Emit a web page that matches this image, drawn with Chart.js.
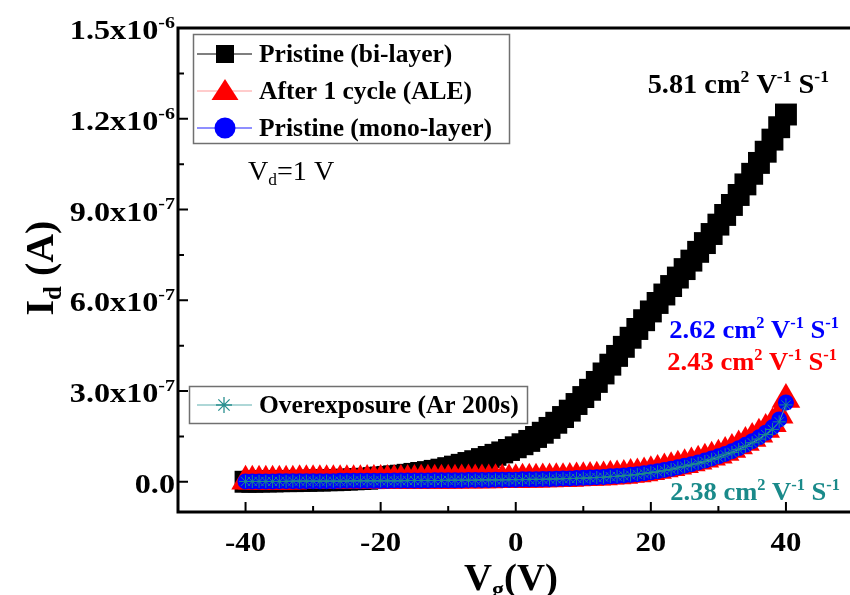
<!DOCTYPE html>
<html><head><meta charset="utf-8">
<style>html,body{margin:0;padding:0;background:#fff;overflow:hidden;width:850px;height:595px}canvas{display:block}</style>
<script src="https://cdn.jsdelivr.net/npm/chart.js@4.4.0/dist/chart.umd.min.js"></script>
</head><body>
<canvas id="c" width="870" height="595"></canvas>
<script>
const vg = [-40,-39,-38,-37,-36,-35,-34,-33,-32,-31,-30,-29,-28,-27,-26,-25,-24,-23,-22,-21,-20,-19,-18,-17,-16,-15,-14,-13,-12,-11,-10,-9,-8,-7,-6,-5,-4,-3,-2,-1,0,1,2,3,4,5,6,7,8,9,10,11,12,13,14,15,16,17,18,19,20,21,22,23,24,25,26,27,28,29,30,31,32,33,34,35,36,37,38,39,40];
// Id in units of 1e-6 A
const biLayer = [0.000,0.000,0.001,0.001,0.001,0.002,0.002,0.002,0.003,0.003,0.004,0.004,0.005,0.005,0.006,0.007,0.008,0.009,0.010,0.012,0.014,0.016,0.018,0.020,0.023,0.026,0.029,0.032,0.036,0.040,0.045,0.050,0.056,0.062,0.068,0.075,0.082,0.089,0.097,0.105,0.114,0.124,0.135,0.148,0.162,0.178,0.195,0.214,0.235,0.257,0.280,0.304,0.330,0.358,0.387,0.416,0.446,0.476,0.505,0.534,0.563,0.591,0.619,0.647,0.675,0.703,0.731,0.760,0.789,0.819,0.850,0.882,0.915,0.948,0.983,1.018,1.054,1.091,1.131,1.172,1.214];
const ale = [0.002,0.002,0.002,0.002,0.002,0.002,0.002,0.002,0.003,0.003,0.003,0.003,0.003,0.003,0.003,0.003,0.003,0.003,0.004,0.004,0.004,0.004,0.004,0.004,0.004,0.004,0.005,0.005,0.005,0.005,0.005,0.005,0.006,0.006,0.006,0.006,0.006,0.007,0.007,0.007,0.007,0.008,0.008,0.008,0.009,0.009,0.010,0.010,0.011,0.012,0.013,0.014,0.015,0.016,0.018,0.019,0.021,0.024,0.026,0.029,0.033,0.037,0.042,0.046,0.051,0.056,0.062,0.068,0.074,0.081,0.088,0.097,0.107,0.118,0.130,0.143,0.157,0.173,0.192,0.220,0.272];
const monoLayer = [0.001,0.001,0.001,0.001,0.001,0.002,0.002,0.002,0.002,0.002,0.002,0.002,0.002,0.002,0.003,0.003,0.003,0.003,0.003,0.003,0.003,0.003,0.004,0.004,0.004,0.004,0.004,0.004,0.005,0.005,0.005,0.005,0.005,0.006,0.006,0.006,0.006,0.007,0.007,0.007,0.007,0.008,0.008,0.008,0.009,0.009,0.010,0.011,0.011,0.012,0.013,0.014,0.015,0.016,0.018,0.019,0.021,0.023,0.025,0.028,0.031,0.035,0.039,0.043,0.048,0.053,0.058,0.064,0.070,0.077,0.084,0.092,0.101,0.111,0.122,0.134,0.147,0.162,0.180,0.206,0.262];
const overexposure = [0.001,0.001,0.001,0.001,0.001,0.001,0.001,0.002,0.002,0.002,0.002,0.002,0.002,0.002,0.002,0.002,0.003,0.003,0.003,0.003,0.003,0.003,0.003,0.003,0.004,0.004,0.004,0.004,0.004,0.004,0.005,0.005,0.005,0.005,0.005,0.006,0.006,0.006,0.006,0.007,0.007,0.007,0.008,0.008,0.008,0.009,0.009,0.010,0.011,0.011,0.012,0.013,0.014,0.015,0.017,0.018,0.020,0.022,0.024,0.027,0.030,0.033,0.037,0.041,0.046,0.051,0.056,0.061,0.067,0.074,0.081,0.089,0.097,0.107,0.117,0.129,0.141,0.156,0.173,0.198,0.254];

const seriesNames = ["Pristine (bi-layer)","After 1 cycle (ALE)","Pristine (mono-layer)","Overexposure (Ar 200s)"];
const mobilities = ["5.81","2.43","2.62","2.38"];
const xTicks = [-40,-20,0,20,40];
const xTickLabels = ["-40","-20","0","20","40"];
const xMinorTicks = [-30,-10,10,30];
const yTicks = [0,0.3,0.6,0.9,1.2,1.5];
const yTickLabels = [["0.0",""],["3.0x10","-7"],["6.0x10","-7"],["9.0x10","-7"],["1.2x10","-6"],["1.5x10","-6"]];
const yMinorTicks = [0.15,0.45,0.75,1.05,1.35];

const FAM = '"Liberation Serif","Times New Roman",serif';
function rich(ctx, parts, x, y, o){
  const fs=o.size, w=o.weight||'bold', sx=o.sx||1;
  const segs=parts.map(p=>{const s=p[1]?fs*0.62:fs; ctx.font=w+' '+s+'px '+FAM; return {t:p[0],k:p[1],s:s,w:ctx.measureText(p[0]).width*sx};});
  const total=segs.reduce((a,b)=>a+b.w,0);
  let cx = o.align==='right'? x-total : o.align==='center'? x-total/2 : x;
  ctx.fillStyle=o.color||'#000'; ctx.textBaseline='alphabetic'; ctx.textAlign='left';
  segs.forEach(g=>{ctx.font=w+' '+g.s+'px '+FAM; const dy=g.k==='sup'?-fs*0.40:g.k==='sub'?fs*0.2:0; ctx.save(); ctx.translate(cx,y+dy); ctx.scale(sx,1); ctx.fillText(g.t,0,0); ctx.restore(); cx+=g.w;});
}
function unit(m){return [[m+" cm",""],["2","sup"],[" V",""],["-1","sup"],[" S",""],["-1","sup"]];}

function legendMarker(ctx, kind, x, y){
  ctx.save();
  if(kind==='rect'){ctx.fillStyle='#000';ctx.fillRect(x-9,y-9,18,18);}
  else if(kind==='tri'){ctx.fillStyle='#ff0000';ctx.beginPath();ctx.moveTo(x,y-12);ctx.lineTo(x+13.5,y+9);ctx.lineTo(x-13.5,y+9);ctx.closePath();ctx.fill();}
  else if(kind==='circ'){ctx.fillStyle='#0000ff';ctx.beginPath();ctx.arc(x,y,10.5,0,Math.PI*2);ctx.fill();}
  else if(kind==='star'){ctx.strokeStyle='#2a9090';ctx.lineWidth=1.3;ctx.beginPath();const r=8;
    ctx.moveTo(x,y-r);ctx.lineTo(x,y+r);ctx.moveTo(x-r,y);ctx.lineTo(x+r,y);
    const d=r*0.707;ctx.moveTo(x-d,y-d);ctx.lineTo(x+d,y+d);ctx.moveTo(x-d,y+d);ctx.lineTo(x+d,y-d);ctx.stroke();}
  ctx.restore();
}

const decor = {
  id:'decor',
  afterDraw(chart){
    const ctx=chart.ctx, a=chart.chartArea, xs=chart.scales.x, ys=chart.scales.y;
    ctx.save();
    ctx.strokeStyle='#000'; ctx.lineWidth=3; ctx.lineCap='square';
    ctx.beginPath(); ctx.moveTo(a.right,a.top); ctx.lineTo(a.left,a.top); ctx.lineTo(a.left,a.bottom); ctx.lineTo(a.right,a.bottom); ctx.lineTo(a.right,a.top); ctx.stroke();
    ctx.lineWidth=2; ctx.lineCap='butt';
    ctx.beginPath();
    xTicks.forEach(v=>{const p=xs.getPixelForValue(v); ctx.moveTo(p,a.bottom); ctx.lineTo(p,a.bottom-10);});
    xMinorTicks.forEach(v=>{const p=xs.getPixelForValue(v); ctx.moveTo(p,a.bottom); ctx.lineTo(p,a.bottom-6);});
    yTicks.forEach(v=>{const p=ys.getPixelForValue(v); ctx.moveTo(a.left,p); ctx.lineTo(a.left+10,p);});
    yMinorTicks.forEach(v=>{const p=ys.getPixelForValue(v); ctx.moveTo(a.left,p); ctx.lineTo(a.left+6,p);});
    ctx.stroke();
    // tick labels
    xTicks.forEach((v,i)=>rich(ctx,[[xTickLabels[i],""]],xs.getPixelForValue(v),551,{size:28,align:'center',sx:1.1}));
    yTicks.forEach((v,i)=>rich(ctx,[[yTickLabels[i][0],""],[yTickLabels[i][1],"sup"]],175,ys.getPixelForValue(v)+11,{size:28,align:'right',sx:1.15}));
    // axis titles
    rich(ctx,[["V",""],["g","sub"],["(V)",""]],511,590,{size:37,align:'center',sx:1.05});
    ctx.save(); ctx.translate(53,268); ctx.rotate(-Math.PI/2);
    rich(ctx,[["I",""],["d","sub"],[" (A)",""]],0,0,{size:40,align:'center'});
    ctx.restore();
    // legend 1
    ctx.fillStyle='#fff'; ctx.fillRect(193,34,316,109);
    ctx.strokeStyle='#707070'; ctx.lineWidth=1.5; ctx.strokeRect(193.5,34.5,316,109);
    const rows=[[54,'#000','rect',0],[91,'#ff9a9a','tri',1],[128,'#2020ff','circ',2]];
    rows.forEach(r=>{ctx.strokeStyle=r[1];ctx.lineWidth=1.2;ctx.beginPath();ctx.moveTo(197,r[0]);ctx.lineTo(252,r[0]);ctx.stroke();
      legendMarker(ctx,r[2],225,r[0]); rich(ctx,[[seriesNames[r[3]],""]],259,r[0]+8,{size:25,sx:1.02});});
    // legend 2
    ctx.fillStyle='#fff'; ctx.fillRect(189,386,338,37);
    ctx.strokeStyle='#707070'; ctx.lineWidth=1.5; ctx.strokeRect(189.5,386.5,338,37);
    ctx.strokeStyle='#5fb0b0';ctx.lineWidth=1.2;ctx.beginPath();ctx.moveTo(197,405);ctx.lineTo(252,405);ctx.stroke();
    legendMarker(ctx,'star',224,405); rich(ctx,[[seriesNames[3],""]],259,413,{size:25,sx:1.02});
    // annotations
    rich(ctx,unit(mobilities[0]),829,93,{size:27,align:'right',color:'#000',sx:1.05});
    rich(ctx,unit(mobilities[2]),839,338,{size:26,align:'right',color:'#0000ff',sx:1.02});
    rich(ctx,unit(mobilities[1]),837,370,{size:26,align:'right',color:'#ff0000',sx:1.02});
    rich(ctx,unit(mobilities[3]),840,500,{size:26,align:'right',color:'#1a8a8a',sx:1.02});
    rich(ctx,[["V",""],["d","sub"],["=1 V",""]],248,180,{size:27,weight:'normal',sx:1.04});
    ctx.restore();
  }
};

function pts(arr){return vg.map((v,i)=>({x:v,y:arr[i]}));}
new Chart(document.getElementById('c'),{
  type:'line',
  data:{datasets:[
    {label:seriesNames[0],data:pts(biLayer),order:4,borderColor:'#000',borderWidth:1,pointStyle:'rect',pointRadius:15.5,pointBackgroundColor:'#000',pointBorderColor:'#000',pointBorderWidth:0,clip:false},
    {label:seriesNames[1],data:pts(ale),order:3,borderColor:'#ff8080',borderWidth:1,pointStyle:'triangle',pointRadius:16.5,pointBackgroundColor:'#ff0000',pointBorderColor:'#ff0000',pointBorderWidth:0,clip:false},
    {label:seriesNames[2],data:pts(monoLayer),order:2,borderColor:'#0000ff',borderWidth:1,pointStyle:'circle',pointRadius:8,pointBackgroundColor:'#0000ff',pointBorderColor:'#0000ff',pointBorderWidth:0,clip:false},
    {label:seriesNames[3],data:pts(overexposure),order:1,borderColor:'#4aa5a5',borderWidth:1,pointStyle:'star',pointRadius:6.5,pointBackgroundColor:'#1a8a8a',pointBorderColor:'#1a8a8a',pointBorderWidth:1,clip:false}
  ]},
  options:{
    responsive:false, animation:false, events:[],
    layout:{padding:{left:178,top:28,right:15,bottom:83}},
    plugins:{legend:{display:false},tooltip:{enabled:false}},
    scales:{
      x:{type:'linear',min:-50,max:50,display:false},
      y:{type:'linear',min:-0.1,max:1.5,display:false}
    },
    elements:{line:{tension:0}}
  },
  plugins:[decor]
});
</script>
</body></html>
